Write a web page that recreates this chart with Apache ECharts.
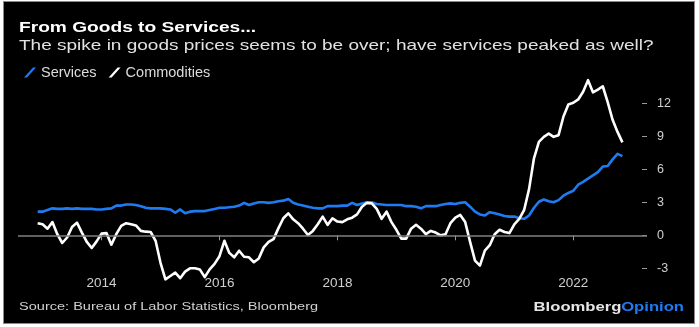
<!DOCTYPE html>
<html>
<head>
<meta charset="utf-8">
<script src="https://cdn.jsdelivr.net/npm/echarts@6/dist/echarts.min.js"></script>
<style>
  html, body { margin: 0; padding: 0; background: #ffffff; }
  #frame { position: absolute; left: 3px; top: 1px; width: 690px; height: 321px; background: #000; border: 1px solid #8a8a8a; }
  #chart { position: absolute; left: 0; top: 0; width: 699px; height: 327px; }
</style>
</head>
<body>
<div id="frame"></div>
<div id="chart"></div>
<script>
// ---- Data (monthly, Dec 2012 .. Nov 2022), YoY % change ----
const firstMonth = '2012-12';
const services = [
  2.15, 2.15, 2.3, 2.45, 2.4, 2.4, 2.45, 2.4, 2.45, 2.4, 2.4, 2.4,
  2.35, 2.35, 2.4, 2.45, 2.7, 2.7, 2.8, 2.8, 2.75, 2.65, 2.5, 2.45,
  2.45, 2.45, 2.4, 2.35, 2.05, 2.35, 2.0, 2.15, 2.2, 2.2, 2.2, 2.3,
  2.4, 2.5, 2.5, 2.55, 2.6, 2.7, 2.95, 2.75, 2.9, 3.0, 3.0, 2.95,
  3.0, 3.1, 3.15, 3.3, 2.95, 2.8, 2.7, 2.6, 2.5, 2.45, 2.45, 2.65,
  2.65, 2.65, 2.7, 2.7, 2.95, 2.75, 2.9, 3.0, 3.0, 2.85, 2.8, 2.75,
  2.75, 2.75, 2.75, 2.65, 2.65, 2.6, 2.45, 2.65, 2.65, 2.65, 2.75, 2.85,
  2.9, 2.85, 2.95, 3.0, 2.6, 2.15, 1.9, 1.8, 2.1, 2.0, 1.9, 1.75,
  1.7, 1.7, 1.55, 1.5, 1.8, 2.5, 3.05, 3.25, 3.1, 3.0, 3.2, 3.6,
  3.85, 4.05, 4.6, 4.85, 5.15, 5.45, 5.75, 6.25, 6.3, 6.9, 7.4, 7.2
];
const commodities = [
  1.1, 1.0, 0.6, 1.2, 0.1, -0.7, -0.2, 0.75, 1.15, 0.25, -0.6, -1.15,
  -0.55, 0.15, 0.2, -0.85, 0.1, 0.85, 1.1, 1.0, 0.9, 0.4, 0.33, 0.3,
  -0.5, -2.5, -4.0, -3.7, -3.4, -3.9, -3.3, -3.0, -3.0, -3.1, -3.8, -3.1,
  -2.6, -1.9, -0.5, -1.6, -2.0, -1.4, -1.95, -2.0, -2.45, -2.1, -1.1, -0.6,
  -0.35, 0.65, 1.55, 2.0, 1.45, 1.1, 0.6, 0.03, 0.4, 1.0, 1.7, 0.95,
  1.55, 1.25, 1.2, 1.45, 1.6, 1.9, 2.6, 2.95, 2.9, 2.4, 1.5, 2.15,
  1.2, 0.5, -0.3, -0.3, 0.6, 0.95, 0.6, 0.1, 0.4, 0.25, 0.0, 0.1,
  1.1, 1.6, 1.85, 1.2, -0.6, -2.3, -2.75, -1.4, -0.9, 0.1, 0.5, 0.3,
  0.2, 1.0, 1.5, 2.3, 4.2, 7.0, 8.5, 8.95, 9.25, 8.95, 9.1, 10.8,
  11.9, 12.05, 12.35, 13.05, 14.1, 13.0, 13.25, 13.55, 12.1, 10.5, 9.4, 8.45
];
const seriesNames = ['Services', 'Commodities'];
const xTickYears = ['2014', '2016', '2018', '2020', '2022'];
const yTicks = [-3, 0, 3, 6, 9, 12];
const axisFirstMonth = '2012-08';
const axisLastMonth = '2023-04';

const titleText = 'From Goods to Services...';
const subtitleText = 'The spike in goods prices seems to be over; have services peaked as well?';
const sourceText = 'Source: Bureau of Labor Statistics, Bloomberg';

// ---- build month categories ----
function monthList(a, b) {
  let [y, m] = a.split('-').map(Number);
  const [ye, me] = b.split('-').map(Number);
  const out = [];
  while (y < ye || (y === ye && m <= me)) {
    out.push(y + '-' + String(m).padStart(2, '0'));
    m++; if (m > 12) { m = 1; y++; }
  }
  return out;
}
const categories = monthList(axisFirstMonth, axisLastMonth);
const offset = categories.indexOf(firstMonth);
function pad(arr) {
  return categories.map((c, i) => {
    const j = i - offset;
    return (j >= 0 && j < arr.length) ? arr[j] : null;
  });
}
const isTick = (idx, val) => val.endsWith('-01') && xTickYears.includes(val.slice(0, 4));

const FONT = '"Liberation Sans", Arial, Helvetica, sans-serif';
const BLUE = '#1f7bf2';
const chart = echarts.init(document.getElementById('chart'), null, { renderer: 'canvas' });
chart.setOption({
  animation: false,
  backgroundColor: 'transparent',
  textStyle: { fontFamily: FONT },
  grid: { left: 18, right: 52, top: 103.3, bottom: 58.7, containLabel: false },
  legend: {
    left: 19, top: 60,
    itemWidth: 12, itemHeight: 10, itemGap: 12,
    icon: 'path://M0,10 L3,10 L12,0 L9,0 Z',
    textStyle: { color: '#dcdcdc', fontSize: 14.5, fontFamily: FONT },
    data: seriesNames
  },
  xAxis: {
    type: 'category',
    data: categories,
    boundaryGap: false,
    axisLine: { show: false },
    axisTick: { show: true, interval: isTick, length: 5, lineStyle: { color: '#9a9a9a', width: 1 } },
    axisLabel: { interval: isTick, formatter: v => v.slice(0, 4), color: '#cfcfcf', fontSize: 13.5, margin: 8, fontFamily: FONT },
    splitLine: { show: false }
  },
  yAxis: {
    type: 'value',
    position: 'right',
    min: yTicks[0], max: yTicks[yTicks.length - 1], interval: 3,
    axisLine: { show: false },
    axisTick: { show: true, inside: true, length: 5, lineStyle: { color: '#9a9a9a', width: 1 } },
    axisLabel: { color: '#cfcfcf', fontSize: 12.5, margin: 10, fontFamily: FONT },
    splitLine: { show: false }
  },
  series: [
    {
      name: seriesNames[0], type: 'line', data: pad(services),
      symbol: 'none', clip: false, connectNulls: false,
      lineStyle: { color: BLUE, width: 2.6, join: 'round' },
      itemStyle: { color: BLUE },
      markLine: {
        silent: true, symbol: 'none', label: { show: false },
        lineStyle: { color: '#808080', width: 1.5, type: 'solid' },
        data: [{ yAxis: 0 }]
      },
      z: 2
    },
    {
      name: seriesNames[1], type: 'line', data: pad(commodities),
      symbol: 'none', clip: false, connectNulls: false,
      lineStyle: { color: '#ffffff', width: 2.6, join: 'round' },
      itemStyle: { color: '#ffffff' },
      z: 3
    }
  ],
  graphic: [
    { type: 'text', x: 19, y: 28.3, scaleX: 1.32, style: { text: titleText, fill: '#ffffff', fontSize: 14.5, fontWeight: 'bold', fontFamily: FONT, align: 'left', verticalAlign: 'middle' } },
    { type: 'text', x: 19, y: 46, scaleX: 1.31, style: { text: subtitleText, fill: '#e2e2e2', fontSize: 14.5, fontFamily: FONT, align: 'left', verticalAlign: 'middle' } },
    { type: 'text', x: 19, y: 307, scaleX: 1.3, style: { text: sourceText, fill: '#d0d0d0', fontSize: 11.2, fontFamily: FONT, align: 'left', verticalAlign: 'middle' } },
    { type: 'text', x: 533.6, y: 307, scaleX: 1.3, style: { text: 'Bloomberg', fill: '#e6e6e6', fontSize: 12.8, fontWeight: 'bold', fontFamily: FONT, align: 'left', verticalAlign: 'middle' } },
    { type: 'text', x: 684, y: 307, scaleX: 1.3, style: { text: 'Opinion', fill: BLUE, fontSize: 12.8, fontWeight: 'bold', fontFamily: FONT, align: 'right', verticalAlign: 'middle' } }
  ]
});
</script>
</body>
</html>
